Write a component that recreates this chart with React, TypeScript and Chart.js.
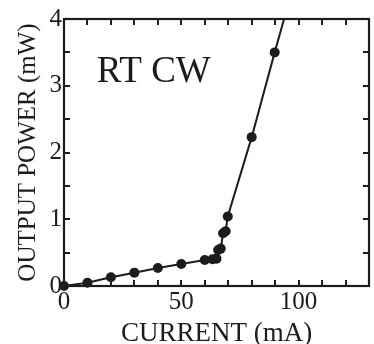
import React, { useEffect, useRef } from "react";
import { Chart, registerables } from "chart.js";

Chart.register(...registerables);

const currentMA = [0, 10, 20, 30, 40, 50, 60, 63.3, 65, 65.7, 66.8, 67.8, 68.9, 69.8, 80, 89.8, 95];
const powerMW = [0, 0.05, 0.13, 0.2, 0.27, 0.33, 0.39, 0.4, 0.41, 0.54, 0.56, 0.79, 0.82, 1.04, 2.23, 3.5, 4.15];
// last point only continues the line beyond the frame (no marker)
const markerShown = [1, 1, 1, 1, 1, 1, 1, 1, 1, 1, 1, 1, 1, 1, 1, 1, 0];
const xLabelValues = [0, 50, 100];
const yLabelValues = [0, 1, 2, 3, 4];
const xTitle = "CURRENT (mA)";
const yTitle = "OUTPUT POWER (mW)";
const annotation = "RT CW";

const INK = "#1c1c1c";
const SERIF = "'Liberation Serif', 'DejaVu Serif', serif";

const framePlugin = {
  id: "frameTicks",
  afterDatasetsDraw(chart: any) {
    const { ctx, chartArea } = chart;
    const { left, right, top, bottom } = chartArea;
    const xs = chart.scales.x;
    const ys = chart.scales.y;
    const len = 6;
    ctx.save();
    ctx.strokeStyle = INK;
    ctx.lineWidth = 2;
    ctx.beginPath();
    xs.ticks.forEach((t: any) => {
      const p = Math.round(xs.getPixelForValue(t.value));
      if (p <= left + 1 || p >= right - 1) return;
      ctx.moveTo(p, bottom);
      ctx.lineTo(p, bottom - len);
      ctx.moveTo(p, top);
      ctx.lineTo(p, top + len);
    });
    ys.ticks.forEach((t: any) => {
      const p = Math.round(ys.getPixelForValue(t.value));
      if (p <= top + 1 || p >= bottom - 1) return;
      ctx.moveTo(left, p);
      ctx.lineTo(left + len, p);
      ctx.moveTo(right, p);
      ctx.lineTo(right - len, p);
    });
    ctx.stroke();
    ctx.lineWidth = 2.2;
    ctx.strokeRect(left, top, right - left, bottom - top);
    ctx.fillStyle = INK;
    ctx.font = `37px ${SERIF}`;
    ctx.textAlign = "left";
    ctx.textBaseline = "alphabetic";
    ctx.fillText(annotation, xs.getPixelForValue(14), ys.getPixelForValue(3.06));
    ctx.restore();
  },
};

export default function App() {
  const ref = useRef<HTMLCanvasElement | null>(null);
  useEffect(() => {
    document.body.style.margin = "0";
    const canvas = ref.current;
    if (!canvas) return;
    const points = currentMA.map((x, i) => ({ x, y: powerMW[i] }));
    const chart = new Chart(canvas, {
      type: "scatter",
      data: {
        datasets: [
          {
            data: points,
            showLine: true,
            borderColor: INK,
            borderWidth: 2,
            backgroundColor: INK,
            pointBackgroundColor: INK,
            pointBorderColor: INK,
            pointRadius: markerShown.map((m) => (m ? 5 : 0)),
            pointHoverRadius: markerShown.map((m) => (m ? 5 : 0)),
            pointBorderWidth: 0,
            clip: { left: 10, bottom: 10, top: 0, right: 0 },
          },
        ],
      },
      plugins: [framePlugin],
      options: {
        animation: false,
        responsive: false,
        maintainAspectRatio: false,
        devicePixelRatio: 1,
        layout: { padding: { top: 19, right: 2, bottom: 0, left: 0 } },
        plugins: { legend: { display: false }, tooltip: { enabled: false } },
        scales: {
          x: {
            type: "linear",
            min: 0,
            max: 130,
            grid: { display: false, drawTicks: false },
            border: { display: false },
            afterFit: (s: any) => {
              s.height = 58;
            },
            ticks: {
              stepSize: 10,
              autoSkip: false,
              maxRotation: 0,
              padding: 1,
              color: INK,
              font: { family: SERIF, size: 25 },
              callback: (v: any) => (xLabelValues.includes(Number(v)) ? String(v) : ""),
            },
            title: {
              display: true,
              text: xTitle,
              color: INK,
              font: { family: SERIF, size: 27 },
              padding: { top: 0, bottom: -6 },
            },
          },
          y: {
            type: "linear",
            min: 0,
            max: 4,
            grid: { display: false, drawTicks: false },
            border: { display: false },
            afterFit: (s: any) => {
              s.width = 64;
            },
            ticks: {
              stepSize: 0.5,
              autoSkip: false,
              padding: 2,
              color: INK,
              font: { family: SERIF, size: 25 },
              callback: (v: any) => (yLabelValues.includes(Number(v)) ? String(v) : ""),
            },
            title: {
              display: true,
              text: yTitle,
              color: INK,
              font: { family: SERIF, size: 25 },
              padding: { top: 13, bottom: 0 },
            },
          },
        },
      },
    });
    return () => chart.destroy();
  }, []);
  return <canvas ref={ref} width={374} height={344} style={{ display: "block" }} />;
}
